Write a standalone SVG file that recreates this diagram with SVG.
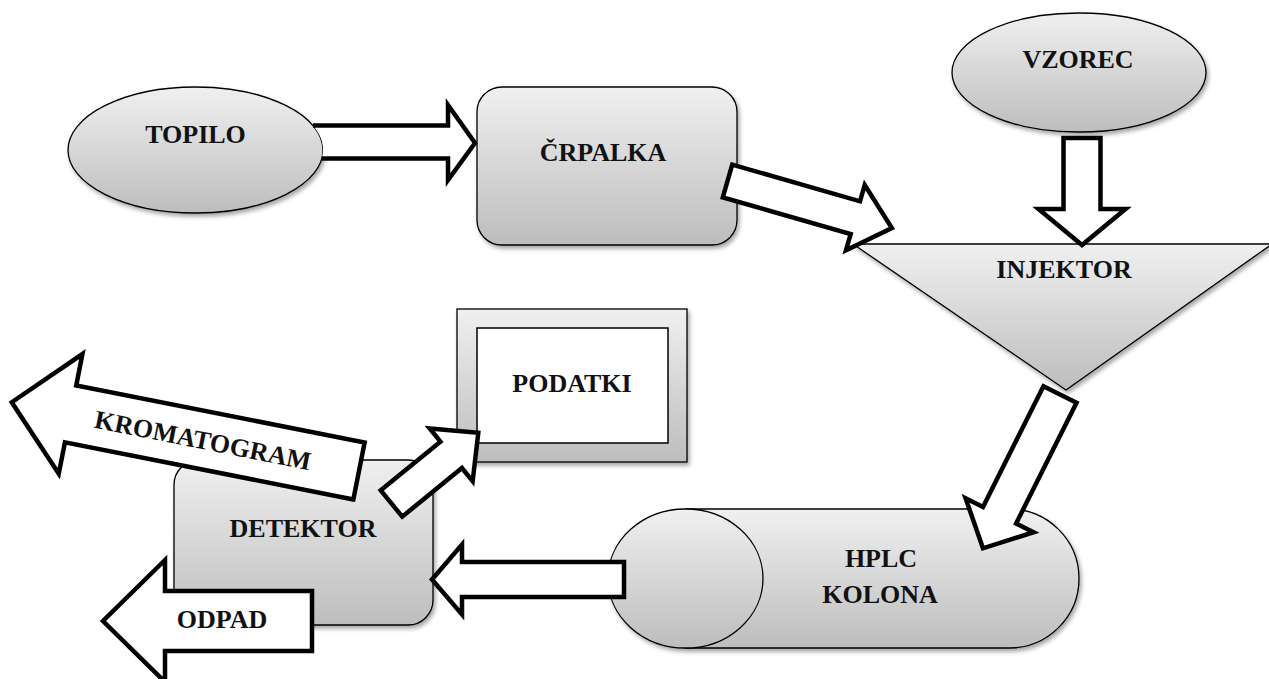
<svg xmlns="http://www.w3.org/2000/svg" width="1269" height="679" viewBox="0 0 1269 679">
<defs>
<linearGradient id="g" x1="0" y1="0" x2="0" y2="1">
<stop offset="0" stop-color="#f0f0f0"/>
<stop offset="1" stop-color="#bdbdbd"/>
</linearGradient>
<filter id="sh" x="-10%" y="-10%" width="125%" height="130%">
<feDropShadow dx="2" dy="3" stdDeviation="2" flood-color="#000" flood-opacity="0.35"/>
</filter>
</defs>
<style>
.shape{fill:url(#g);stroke:#000;stroke-width:1.3;filter:url(#sh)}
.plain{fill:url(#g);stroke:#000;stroke-width:1.3}
.lbl{font-family:'Liberation Serif','Times New Roman','DejaVu Serif',serif;font-weight:700;font-size:26px;fill:#111;text-anchor:middle}
.arr{fill:#fff;stroke:#000;stroke-width:4.5;stroke-linejoin:miter}
.arrfill{fill:#fff;stroke:none}
.arrline{fill:none;stroke:#000;stroke-width:4.5;stroke-linejoin:miter}
</style>
<rect width="1269" height="679" fill="#fff"/>

<g id="topilo">
<ellipse class="shape" cx="195.5" cy="150" rx="127.5" ry="63"/>
<text class="lbl" font-family="Liberation Serif, serif" x="195.5" y="143">TOPILO</text>
</g>

<g id="crpalka">
<rect class="shape" x="477" y="87" width="260" height="158" rx="25" ry="25"/>
<text class="lbl" font-family="Liberation Serif, serif" x="603" y="161">ČRPALKA</text>
</g>

<g id="vzorec">
<ellipse class="shape" cx="1079" cy="72.5" rx="127" ry="59.5"/>
<text class="lbl" font-family="Liberation Serif, serif" x="1078" y="68">VZOREC</text>
</g>

<g id="injektor">
<polygon class="shape" points="853,244 1272,244 1066,390"/>
<text class="lbl" font-family="Liberation Serif, serif" x="1064" y="278">INJEKTOR</text>
</g>

<g id="podatki">
<rect class="shape" x="457" y="309" width="230" height="153"/>
<rect x="477" y="328" width="191" height="115" fill="#fff" stroke="#000" stroke-width="1.5"/>
<text class="lbl" font-family="Liberation Serif, serif" x="572" y="392">PODATKI</text>
</g>

<g id="hplc-kolona">
<g filter="url(#sh)">
<path class="plain" d="M685.5,509 H1009 A70 69.5 0 0 1 1009,648 H685.5 Z"/>
<ellipse class="plain" cx="685.5" cy="578.5" rx="77.5" ry="69.5"/>
</g>
<text class="lbl" font-family="Liberation Serif, serif" x="881" y="567">HPLC</text>
<text class="lbl" font-family="Liberation Serif, serif" x="880" y="603">KOLONA</text>
</g>

<g id="detektor">
<rect class="shape" x="174" y="460" width="259" height="165" rx="25" ry="25"/>
<text class="lbl" font-family="Liberation Serif, serif" x="303" y="537">DETEKTOR</text>
</g>

<g id="connectors">
<path class="arrfill" d="M313,125.5 L448,125.5 L448,105 L475,143 L448,180 L448,158.5 L321.8,158.5 A127.5 63 0 0 0 313,125.5 Z"/>
<path class="arrline" d="M313,125.5 L448,125.5 L448,105 L475,143 L448,180 L448,158.5 L321.8,158.5"/>
<polygon class="arr" transform="translate(727.5,181) rotate(16)" points="0,-17 133,-17 133,-34 171,0 133,34 133,17 0,17"/>
<polygon class="arr" transform="translate(1082,138) rotate(90)" points="0,-18.5 71,-18.5 71,-43.5 107,0 71,43.5 71,18.5 0,18.5"/>
<polygon class="arr" transform="translate(1060,394.5) rotate(116.6)" points="0,-18.5 135,-18.5 135,-38 172,0 135,38 135,18.5 0,18.5"/>
<polygon class="arr" transform="translate(624,579.5) rotate(180)" points="0,-17.5 162,-17.5 162,-35 192,0 162,35 162,17.5 0,17.5"/>
<polygon class="arr" transform="translate(391.5,503.5) rotate(-39.2)" points="0,-17 77,-17 77,-34 112,0 77,34 77,17 0,17"/>
<g id="kromatogram">
<polygon class="arr" transform="translate(359,471) rotate(191.2)" points="0,-29 294,-29 294,-61 354,0 294,61 294,29 0,29"/>
<text class="lbl" font-family="Liberation Serif, serif" x="203" y="449" transform="rotate(11.2 203 440)">KROMATOGRAM</text>
</g>
<g id="odpad">
<polygon class="arr" transform="translate(312,621) rotate(180)" points="0,-30 147,-30 147,-61 209,0 147,61 147,30 0,30"/>
<text class="lbl" font-family="Liberation Serif, serif" x="222" y="628">ODPAD</text>
</g>
</g>
</svg>
